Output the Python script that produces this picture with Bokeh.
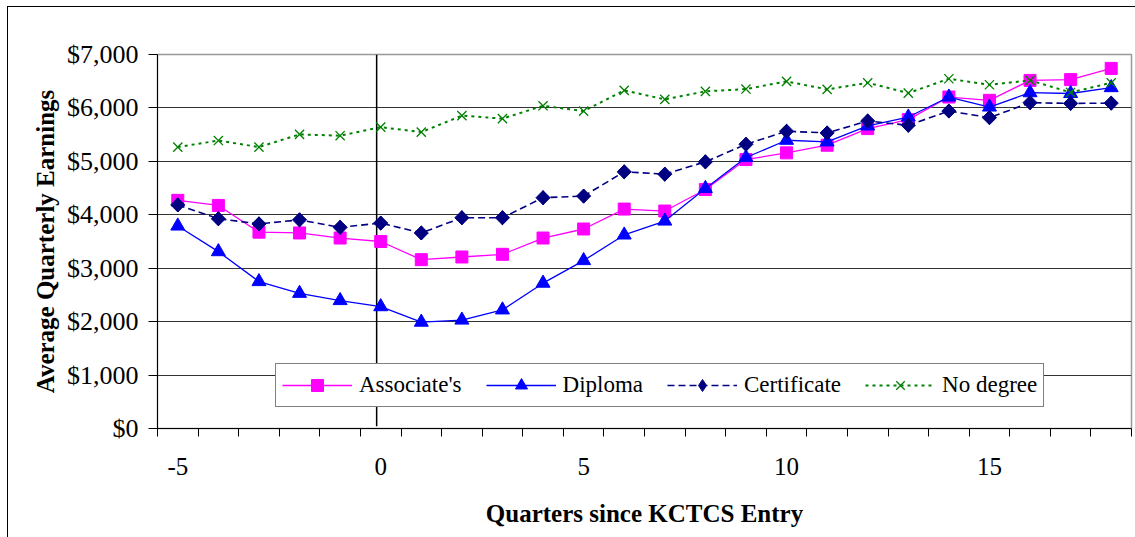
from bokeh.plotting import figure
from bokeh.models import (Range1d, FixedTicker, NumeralTickFormatter, Legend,
                          LegendItem, ColumnDataSource)
from bokeh.embed import file_html
from bokeh.resources import INLINE

# ---------------- data ----------------
quarters = list(range(-5, 19))
associates = [4270, 4175, 3675, 3660, 3565, 3500, 3160, 3210, 3260, 3565,
              3734, 4107, 4070, 4474, 5034, 5159, 5302, 5613, 5781, 6204,
              6142, 6515, 6530, 6740]
diploma = [3790, 3310, 2750, 2530, 2395, 2280, 1990, 2030, 2220, 2720,
           3143, 3622, 3883, 4493, 5072, 5395, 5364, 5663, 5830, 6204,
           6017, 6285, 6270, 6380]
certificate = [4185, 3925, 3830, 3905, 3765, 3845, 3660, 3945, 3945, 4320,
               4350, 4804, 4760, 4991, 5320, 5563, 5532, 5756, 5675, 5942,
               5818, 6098, 6085, 6090]
no_degree = [5267, 5390, 5267, 5505, 5480, 5640, 5548, 5855, 5800, 6040,
             5940, 6328, 6160, 6310, 6353, 6496, 6347, 6471, 6278, 6546,
             6434, 6515, 6290, 6470]
series_names = ["Associate's", "Diploma", "Certificate", "No degree"]
x_tick_labels = [-5, 0, 5, 10, 15]
x_tick_text = ["-5", "0", "5", "10", "15"]
y_ticks = [0, 1000, 2000, 3000, 4000, 5000, 6000, 7000]
entry_line_x = -0.1
entry_line_top = 7000
entry_line_bottom = 40

FONT = "Liberation Serif"

p = figure(width=1135, height=537, output_backend="svg", toolbar_location=None,
           x_range=Range1d(-5.5, 18.5), y_range=Range1d(0, 7000),
           min_border_left=157, min_border_right=4, min_border_top=54,
           min_border_bottom=109)
p.background_fill_color = "white"
p.border_fill_alpha = 0
p.styles = {
    "background": ("linear-gradient(#000, #000) 7px 6px / 1px 100% no-repeat, "
                   "linear-gradient(#000, #000) 7px 6px / 100% 1px no-repeat, "
                   "#ffffff")
}
p.outline_line_color = "#999999"
p.outline_line_width = 1.5

# grid
p.xgrid.visible = False
p.ygrid.ticker = FixedTicker(ticks=y_ticks)
p.ygrid.grid_line_color = "#333333"
p.ygrid.grid_line_width = 1

# x axis (category style: tick marks between categories)
half_ticks = [q - 0.5 for q in quarters] + [quarters[-1] + 0.5]
xa = p.xaxis[0]
xa.ticker = FixedTicker(ticks=x_tick_labels, minor_ticks=half_ticks)
xa.major_label_overrides = dict(zip(x_tick_labels, x_tick_text))
xa.major_tick_out = 0
xa.major_tick_in = 0
xa.minor_tick_out = 8
xa.minor_tick_in = 0
xa.minor_tick_line_color = "black"
xa.axis_line_color = "black"
xa.major_label_text_font = FONT
xa.major_label_text_font_size = "25px"
xa.major_label_text_color = "black"
xa.major_label_standoff = 21
xa.axis_label = "Quarters since KCTCS Entry"
xa.axis_label_text_font = FONT
xa.axis_label_text_font_size = "25px"
xa.axis_label_text_font_style = "bold"
xa.axis_label_text_color = "black"
xa.axis_label_standoff = 22

ya = p.yaxis[0]
ya.ticker = FixedTicker(ticks=y_ticks)
ya.formatter = NumeralTickFormatter(format="$0,0")
ya.major_tick_out = 9
ya.major_tick_in = 0
ya.minor_tick_out = 0
ya.minor_tick_in = 0
ya.axis_line_color = "black"
ya.major_tick_line_color = "black"
ya.major_label_text_font = FONT
ya.major_label_text_font_size = "26px"
ya.major_label_text_color = "black"
ya.major_label_standoff = 10
ya.axis_label = "Average Quarterly Earnings"
ya.axis_label_text_font = FONT
ya.axis_label_text_font_size = "25px"
ya.axis_label_text_font_style = "bold"
ya.axis_label_text_color = "black"
ya.axis_label_standoff = 5

# entry reference line
p.segment(x0=[entry_line_x], y0=[entry_line_top], x1=[entry_line_x],
          y1=[entry_line_bottom], line_color="black", line_width=1.5)

src = ColumnDataSource(dict(q=quarters, a=associates, d=diploma,
                            c=certificate, n=no_degree))

items = []
l1 = p.line("q", "a", source=src, line_color="#FF00FF", line_width=1.3)
m1 = p.scatter("q", "a", source=src, marker="square", size=12,
               fill_color="#FF00FF", line_color="#FF00FF")
items.append(LegendItem(label=series_names[0], renderers=[l1, m1]))

l2 = p.line("q", "d", source=src, line_color="#0000FF", line_width=1.3)
m2 = p.scatter("q", "d", source=src, marker="triangle", size=14,
               fill_color="#0000FF", line_color="#0000FF")
items.append(LegendItem(label=series_names[1], renderers=[l2, m2]))

l3 = p.line("q", "c", source=src, line_color="#000080", line_width=1.6,
            line_dash="7 4")
# diamond key for the legend (legend glyphs are not rotated); it lies fully
# underneath the rotated-square markers drawn next
m3_key = p.scatter("q", "c", source=src, marker="diamond", size=14,
                   fill_color="#000080", line_color="#000080")
m3 = p.scatter("q", "c", source=src, marker="square", size=10, angle=0.785398,
               fill_color="#000080", line_color="#000080")
items.append(LegendItem(label=series_names[2], renderers=[l3, m3_key]))

l4 = p.line("q", "n", source=src, line_color="#008000", line_width=2,
            line_dash="3 4")
m4 = p.scatter("q", "n", source=src, marker="x", size=13,
               line_color="#008000", line_width=1.3)
items.append(LegendItem(label=series_names[3], renderers=[l4, m4]))

legend = Legend(items=items, orientation="horizontal", location=(118, 21),
                margin=0, padding=6, spacing=24, glyph_width=70,
                glyph_height=30, label_height=30, label_standoff=7,
                label_text_font=FONT, label_text_font_size="23px",
                label_text_color="black", border_line_color="black",
                border_line_width=1, background_fill_color="white",
                background_fill_alpha=1)
p.add_layout(legend, "center")

open("out.html", "w").write(file_html(p, INLINE))
